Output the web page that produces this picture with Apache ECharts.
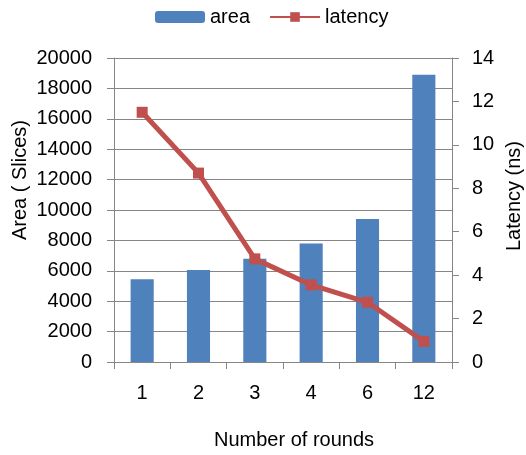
<!DOCTYPE html>
<html>
<head>
<meta charset="utf-8">
<style>
  html, body { margin: 0; padding: 0; background: #fff; }
  #chart { width: 526px; height: 455px; }
</style>
<script src="https://cdn.jsdelivr.net/npm/echarts@6/dist/echarts.min.js"></script>
</head>
<body>
<div id="chart"></div>
<script>
// Rounds on the x axis, area (slices) as bars, latency (ns) as a line
const rounds = ['1', '2', '3', '4', '6', '12'];
const areaSlices = [5450, 6050, 6800, 7800, 9400, 18900];
const latencyNs = [11.5, 8.7, 4.75, 3.55, 2.75, 0.95];
const areaTicks = [0, 2000, 4000, 6000, 8000, 10000, 12000, 14000, 16000, 18000, 20000];

const FONT = 'Liberation Sans, Arial, sans-serif';
const GRAY = '#868686';
const TEXT = '#000';
const plain = v => String(v);

const chart = echarts.init(document.getElementById('chart'), null, { renderer: 'canvas' });

chart.setOption({
  animation: false,
  backgroundColor: '#fff',
  textStyle: { fontFamily: FONT },
  legend: {
    top: 7,
    left: 155,
    padding: 0,
    itemGap: 19,
    itemWidth: 50,
    itemHeight: 12,
    textStyle: { fontFamily: FONT, fontSize: 20, color: TEXT },
    data: ['area', 'latency']
  },
  grid: { left: 114, right: 74, top: 58, bottom: 93, outerBoundsMode: 'none' },
  xAxis: {
    type: 'category',
    data: rounds,
    boundaryGap: true,
    name: 'Number of rounds',
    nameLocation: 'middle',
    nameGap: 68,
    nameMoveOverlap: false,
    nameTextStyle: { fontFamily: FONT, fontSize: 20, color: TEXT, padding: [0, 0, 0, 22] },
    axisLine: { lineStyle: { color: GRAY, width: 1 } },
    axisTick: { show: true, alignWithLabel: false, length: 7, lineStyle: { color: GRAY } },
    axisLabel: { fontFamily: FONT, fontSize: 20, color: TEXT, margin: 21 },
    splitLine: { show: false }
  },
  yAxis: [
    {
      type: 'value',
      min: 0,
      max: 20000,
      interval: 2000,
      name: 'Area ( Slices)',
      nameLocation: 'middle',
      nameRotate: 90,
      nameGap: 84,
      nameMoveOverlap: false,
      nameTextStyle: { fontFamily: FONT, fontSize: 20, color: TEXT, padding: [0, 0, 0, 60] },
      axisLine: { show: true, lineStyle: { color: GRAY, width: 1 } },
      axisTick: { show: true, length: 7, lineStyle: { color: GRAY } },
      axisLabel: { fontFamily: FONT, fontSize: 20, color: TEXT, margin: 22, formatter: plain },
      splitLine: { show: true, lineStyle: { color: GRAY, width: 1 } }
    },
    {
      type: 'value',
      min: 0,
      max: 14,
      interval: 2,
      position: 'right',
      name: 'Latency (ns)',
      nameLocation: 'middle',
      nameRotate: 90,
      nameGap: 52,
      nameMoveOverlap: false,
      nameTextStyle: { fontFamily: FONT, fontSize: 20, color: TEXT, padding: [0, 0, 0, 28] },
      axisLine: { show: true, lineStyle: { color: GRAY, width: 1 } },
      axisTick: { show: true, length: 7, lineStyle: { color: GRAY } },
      axisLabel: { fontFamily: FONT, fontSize: 20, color: TEXT, margin: 20, formatter: plain },
      splitLine: { show: false }
    }
  ],
  series: [
    {
      name: 'area',
      type: 'bar',
      yAxisIndex: 0,
      data: areaSlices,
      barWidth: '41%',
      itemStyle: { color: '#4F81BD' },
      z: 2,
      // horizontal gridlines on the area scale, drawn behind the bars
      markLine: {
        z: 1,
        silent: true,
        animation: false,
        symbol: ['none', 'none'],
        label: { show: false },
        lineStyle: { color: GRAY, width: 1, type: 'solid', opacity: 1 },
        emphasis: { disabled: true },
        data: areaTicks.map(v => ({ yAxis: v }))
      }
    },
    {
      name: 'latency',
      type: 'line',
      yAxisIndex: 1,
      data: latencyNs,
      symbol: 'rect',
      symbolSize: 11,
      lineStyle: { color: '#C0504D', width: 5 },
      itemStyle: { color: '#C0504D' },
      z: 5
    }
  ]
});
</script>
</body>
</html>
